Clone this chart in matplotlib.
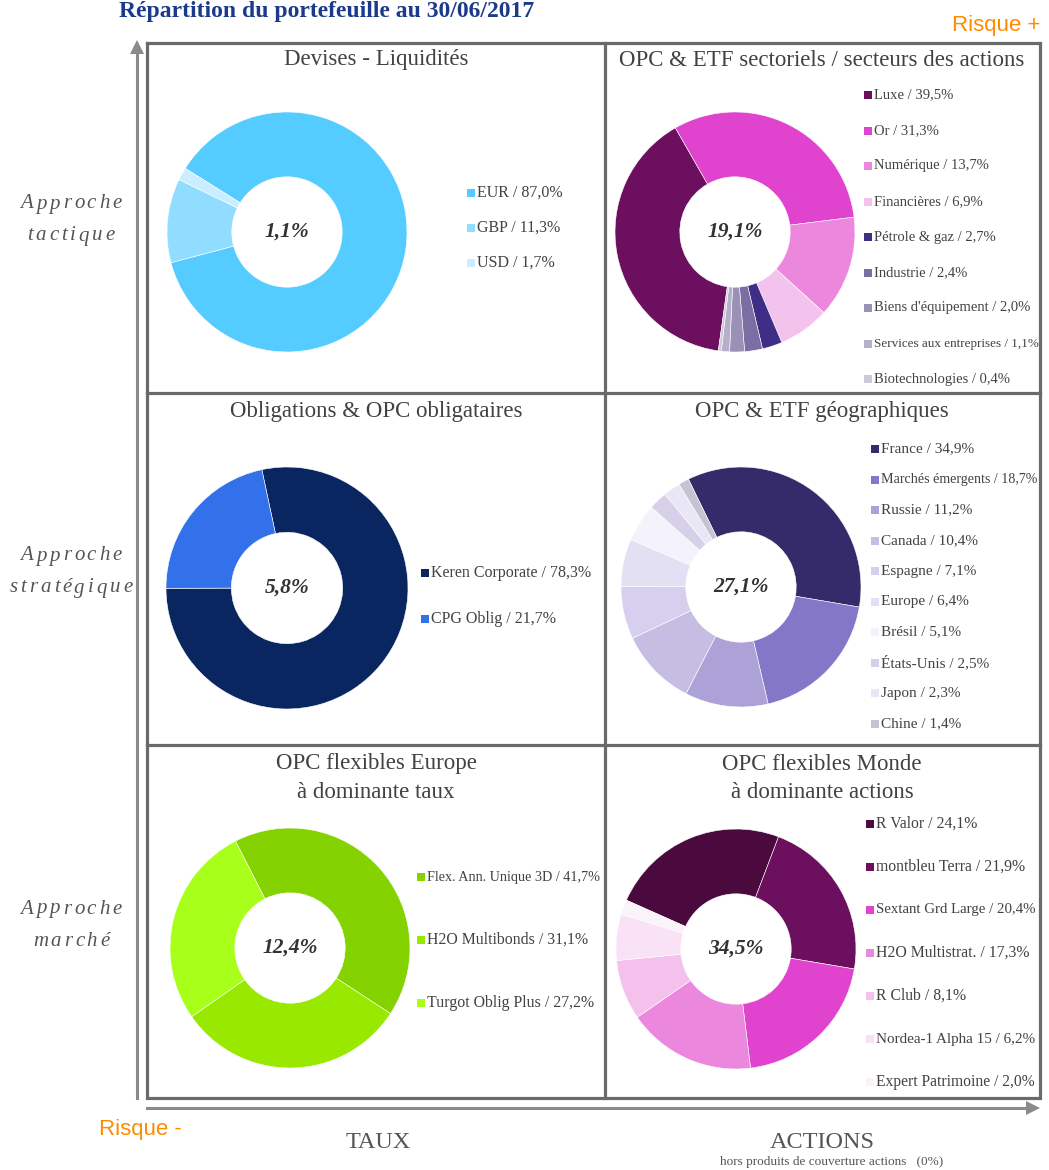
import matplotlib
matplotlib.use("Agg")
import matplotlib.pyplot as plt
from matplotlib.patches import Rectangle, Polygon
from matplotlib.font_manager import FontProperties

W, H = 1049, 1170

# ---------------- data ----------------
dev_labels = ["EUR", "GBP", "USD"]
dev_values = [87.0, 11.3, 1.7]
dev_colors = ["#55CCFF", "#90DDFF", "#C8EEFF"]
dev_total = "1,1%"

sec_labels = ["Luxe", "Or", "Numérique", "Financières", "Pétrole & gaz", "Industrie",
              "Biens d'équipement", "Services aux entreprises", "Biotechnologies"]
sec_values = [39.5, 31.3, 13.7, 6.9, 2.7, 2.4, 2.0, 1.1, 0.4]
sec_colors = ["#6B0F5E", "#E044CF", "#EB88DD", "#F4C3ED", "#3F2E88", "#7A6FA2",
              "#9A92B6", "#B6AFCC", "#CCCAD8"]
sec_total = "19,1%"

obl_labels = ["Keren Corporate", "CPG Oblig"]
obl_values = [78.3, 21.7]
obl_colors = ["#0A2660", "#3371EA"]
obl_total = "5,8%"

geo_labels = ["France", "Marchés émergents", "Russie", "Canada", "Espagne", "Europe",
              "Brésil", "États-Unis", "Japon", "Chine"]
geo_values = [34.9, 18.7, 11.2, 10.4, 7.1, 6.4, 5.1, 2.5, 2.3, 1.4]
geo_colors = ["#352A6A", "#8577C8", "#ADA2D8", "#C6BDE2", "#D6D0EE", "#E4E0F4",
              "#F4F2FA", "#D6D1E9", "#E9E7F5", "#C6C4D2"]
geo_total = "27,1%"

flx_labels = ["Flex. Ann. Unique 3D", "H2O Multibonds", "Turgot Oblig Plus"]
flx_values = [41.7, 31.1, 27.2]
flx_colors = ["#84D200", "#98E800", "#A8FF1A"]
flx_total = "12,4%"

mon_labels = ["R Valor", "montbleu Terra", "Sextant Grd Large", "H2O Multistrat.",
              "R Club", "Nordea-1 Alpha 15", "Expert Patrimoine"]
mon_values = [24.1, 21.9, 20.4, 17.3, 8.1, 6.2, 2.0]
mon_colors = ["#4A0A3E", "#6B0F5E", "#E044CF", "#EB88DD", "#F4C1EC", "#F9E2F6", "#FBF3FA"]
mon_total = "34,5%"


def fmt(v):
    return ("%.1f" % v).replace(".", ",") + "%"


fig = plt.figure(figsize=(W / 100, H / 100), dpi=100)
ax0 = fig.add_axes([0, 0, 1, 1])
ax0.set_xlim(0, W)
ax0.set_ylim(H, 0)
ax0.axis("off")
renderer = fig.canvas.get_renderer()

SERIF = ["Liberation Serif", "DejaVu Serif"]
SANS = ["Liberation Sans", "DejaVu Sans"]
GREY = "#424242"


def text_width(s, size, style="normal", weight="normal"):
    fp = FontProperties(family="Liberation Serif", size=size, style=style, weight=weight)
    w, h, d = renderer.get_text_width_height_descent(s, fp, ismath=False)
    return w


# title
ax0.text(327, 12, "Répartition du portefeuille au 30/06/2017", family=SERIF, fontsize=17,
         fontweight="bold", color="#1B3A8C", ha="center", va="center")

# grid
gc = "#6A6A6A"
lw = 2.3
ax0.plot([147, 1040, 1040, 147, 147], [43, 43, 1098, 1098, 43], color=gc, lw=lw,
         solid_joinstyle="miter")
ax0.plot([605, 605], [43, 1098], color=gc, lw=lw)
ax0.plot([147, 1040], [393, 393], color=gc, lw=lw)
ax0.plot([147, 1040], [745, 745], color=gc, lw=lw)

# axes arrows
ac = "#8A8A8A"
ax0.plot([137, 137], [1098, 52], color=ac, lw=2.2)
ax0.add_patch(Polygon([[130, 54], [144, 54], [137, 40]], closed=True, color=ac, lw=0))
ax0.plot([147, 1028], [1108, 1108], color=ac, lw=2.2)
ax0.add_patch(Polygon([[1026, 1101], [1026, 1115], [1040, 1108]], closed=True, color=ac, lw=0))

ax0.text(996, 25, "Risque +", family=SANS, fontsize=16, color="#FF8C00", ha="center", va="center")
ax0.text(140, 1130, "Risque -", family=SANS, fontsize=16, color="#FF8C00", ha="center", va="center")
ax0.text(378, 1143, "TAUX", family=SERIF, fontsize=17.5, color="#555555", ha="center", va="center")
ax0.text(822, 1143, "ACTIONS", family=SERIF, fontsize=17.5, color="#555555", ha="center", va="center")
ax0.text(832, 1162, "hors produits de couverture actions   (0%)", family=SERIF, fontsize=9.5,
         color="#555555", ha="center", va="center")


# left labels with letter spacing
def tracked(s, cx, y, size=15, track=2.9):
    n = len(s)
    total = text_width(s, size, "italic") + (n - 1) * track
    x0 = cx - total / 2
    for i, ch in enumerate(s):
        xi = x0 + (text_width(s[:i], size, "italic") if i else 0) + i * track
        ax0.text(xi, y, ch, family=SERIF, style="italic", fontsize=size,
                 color="#555555", ha="left", va="center")


for l1, l2, y in [("Approche", "tactique", 220), ("Approche", "stratégique", 572),
                  ("Approche", "marché", 925)]:
    tracked(l1, 71, y - 16)
    tracked(l2, 71, y + 16)

# cell titles
titles = [("Devises - Liquidités", 376, 60), ("OPC & ETF sectoriels / secteurs des actions", 822, 60),
          ("Obligations & OPC obligataires", 376, 412), ("OPC & ETF géographiques", 822, 412),
          ("OPC flexibles Europe", 376, 764), ("à dominante taux", 376, 793),
          ("OPC flexibles Monde", 822, 764), ("à dominante actions", 822, 793)]
for t, x, y in titles:
    ax0.text(x, y, t, family=SERIF, fontsize=16.5, color=GREY, ha="center", va="center")


def donut(cx, cy, r, values, colors, start, total):
    ax = fig.add_axes([(cx - r) / W, 1 - (cy + r) / H, 2 * r / W, 2 * r / H])
    ax.pie(values, colors=colors, startangle=start, counterclock=False, radius=1,
           wedgeprops=dict(width=0.54, edgecolor="white", linewidth=0.4))
    ax.set_xlim(-1, 1)
    ax.set_ylim(-1, 1)
    ax.set_aspect("equal")
    ax.axis("off")
    ax.text(0, 0, total, family=SERIF, fontsize=15.5, fontweight="bold", style="italic",
            color="#333333", ha="center", va="center")


def legend(x, y0, dy, labels, values, colors, fs, maxw):
    for i, (lab, v, c) in enumerate(zip(labels, values, colors)):
        y = y0 + i * dy
        ax0.add_patch(Rectangle((x, y - 4), 8, 8, color=c, lw=0))
        full = "%s / %s" % (lab, fmt(v))
        w = text_width(full, fs)
        f = fs if w <= maxw else fs * maxw / w
        ax0.text(x + 10, y, full, family=SERIF, fontsize=f, color=GREY, ha="left", va="center")


donut(287, 232, 120, dev_values, dev_colors, 148, dev_total)
legend(467, 193, 35, dev_labels, dev_values, dev_colors, 11.5, 125)

donut(735, 232, 120, sec_values, sec_colors, 262, sec_total)
legend(864, 95, 35.5, sec_labels, sec_values, sec_colors, 10.5, 165)

donut(287, 588, 121, obl_values, obl_colors, 102, obl_total)
legend(421, 573, 46, obl_labels, obl_values, obl_colors, 11.5, 170)

donut(741, 587, 120, geo_values, geo_colors, 116, geo_total)
legend(871, 449, 30.5, geo_labels, geo_values, geo_colors, 11, 156)

donut(290, 948, 120, flx_values, flx_colors, 117, flx_total)
legend(417, 877, 63, flx_labels, flx_values, flx_colors, 11.4, 172)

donut(736, 949, 120, mon_values, mon_colors, 156, mon_total)
legend(866, 824, 43, mon_labels, mon_values, mon_colors, 11.3, 160)

fig.savefig("out.png", dpi=100)
